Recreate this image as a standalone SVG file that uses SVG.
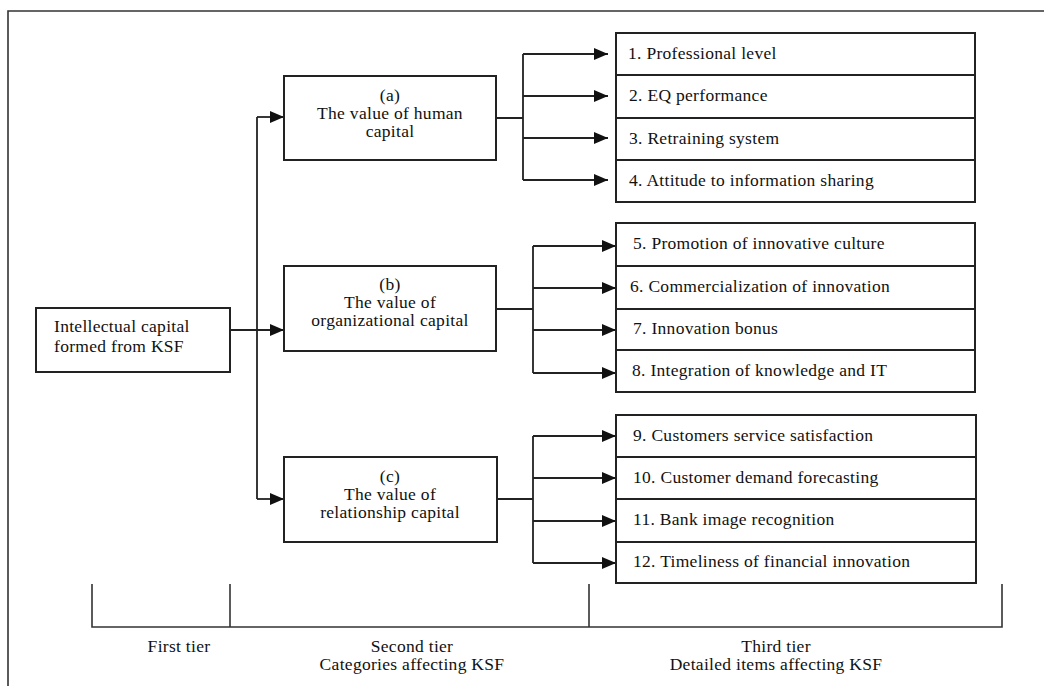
<svg xmlns="http://www.w3.org/2000/svg" width="1044" height="686" viewBox="0 0 1044 686">
<defs>
<marker id="ah" markerWidth="14" markerHeight="12" refX="14" refY="6" orient="auto" markerUnits="userSpaceOnUse">
<path d="M0,0 L14,6 L0,12 Z" fill="#111"/>
</marker>
<style>
.t{font-family:'Liberation Serif','DejaVu Serif',serif;font-size:17.5px;letter-spacing:0.3px;fill:#111}
.c{text-anchor:middle}
.box{fill:#fff;stroke:#222;stroke-width:2}
.ln{fill:none;stroke:#222;stroke-width:1.8}
.ar{fill:none;stroke:#222;stroke-width:1.8;marker-end:url(#ah)}
.fr{fill:none;stroke:#333;stroke-width:1.6}
</style>
</defs>
<rect width="1044" height="686" fill="#fff"/>
<g id="frame">
<path class="fr" d="M8,686 V11 H1044"/>
</g>
<g id="connectors">
<line class="ar" x1="230" y1="330" x2="284" y2="330"/>
<path class="ln" d="M257,117 V499"/>
<line class="ar" x1="257" y1="117" x2="284" y2="117"/>
<line class="ar" x1="257" y1="499" x2="284" y2="499"/>
<path class="ln" d="M496,118 H523 M523,54 V180"/>
<line class="ar" x1="523" y1="54" x2="608" y2="54"/>
<line class="ar" x1="523" y1="96" x2="608" y2="96"/>
<line class="ar" x1="523" y1="138" x2="608" y2="138"/>
<line class="ar" x1="523" y1="180" x2="608" y2="180"/>
<path class="ln" d="M496,309 H533 M533,246 V373"/>
<line class="ar" x1="533" y1="246" x2="616" y2="246"/>
<line class="ar" x1="533" y1="288" x2="616" y2="288"/>
<line class="ar" x1="533" y1="330" x2="616" y2="330"/>
<line class="ar" x1="533" y1="373" x2="616" y2="373"/>
<path class="ln" d="M497,499 H533 M533,436 V563"/>
<line class="ar" x1="533" y1="436" x2="616" y2="436"/>
<line class="ar" x1="533" y1="478" x2="616" y2="478"/>
<line class="ar" x1="533" y1="521" x2="616" y2="521"/>
<line class="ar" x1="533" y1="563" x2="616" y2="563"/>
</g>
<g id="ksf">
<rect class="box" x="36" y="308" width="194" height="64"/>
<text class="t" font-family="Liberation Serif, serif" x="54" y="332">Intellectual capital</text>
<text class="t" font-family="Liberation Serif, serif" x="54" y="352">formed from KSF</text>
</g>
<g id="cat-a">
<rect class="box" x="284" y="76" width="212" height="84"/>
<text class="t c" x="390" y="101">(a)</text>
<text class="t c" x="390" y="119">The value of human</text>
<text class="t c" x="390" y="137">capital</text>
</g>
<g id="cat-b">
<rect class="box" x="284" y="266" width="212" height="85"/>
<text class="t c" x="390" y="290">(b)</text>
<text class="t c" x="390" y="308">The value of</text>
<text class="t c" x="390" y="326">organizational capital</text>
</g>
<g id="cat-c">
<rect class="box" x="284" y="457" width="213" height="85"/>
<text class="t c" x="390" y="482">(c)</text>
<text class="t c" x="390" y="500">The value of</text>
<text class="t c" x="390" y="518">relationship capital</text>
</g>
<g id="item-1"><rect class="box" x="616" y="33" width="359" height="42"/><text class="t" x="628" y="58.5">1. Professional level</text></g>
<g id="item-2"><rect class="box" x="616" y="75" width="359" height="43"/><text class="t" x="629" y="101">2. EQ performance</text></g>
<g id="item-3"><rect class="box" x="616" y="118" width="359" height="42"/><text class="t" x="629" y="143.5">3. Retraining system</text></g>
<g id="item-4"><rect class="box" x="616" y="160" width="359" height="42"/><text class="t" x="629" y="185.5">4. Attitude to information sharing</text></g>
<g id="item-5"><rect class="box" x="616" y="223" width="359" height="43"/><text class="t" x="633" y="249">5. Promotion of innovative culture</text></g>
<g id="item-6"><rect class="box" x="616" y="266" width="359" height="43"/><text class="t" x="630" y="292">6.  Commercialization of innovation</text></g>
<g id="item-7"><rect class="box" x="616" y="309" width="359" height="41"/><text class="t" x="633" y="334">7. Innovation bonus</text></g>
<g id="item-8"><rect class="box" x="616" y="350" width="359" height="42"/><text class="t" x="632" y="376">8. Integration of knowledge and IT</text></g>
<g id="item-9"><rect class="box" x="616" y="415" width="360" height="42"/><text class="t" x="633" y="440.5">9. Customers service satisfaction</text></g>
<g id="item-10"><rect class="box" x="616" y="457" width="360" height="42"/><text class="t" x="633" y="482.5">10. Customer demand forecasting</text></g>
<g id="item-11"><rect class="box" x="616" y="499" width="360" height="43"/><text class="t" x="633" y="525">11. Bank image recognition</text></g>
<g id="item-12"><rect class="box" x="616" y="542" width="360" height="41"/><text class="t" x="633" y="567">12. Timeliness of financial innovation</text></g>
<g id="tiers">
<path class="fr" d="M92,584 V627 H1002 V584 M230,584 V627 M589,584 V627"/>
<text class="t c" x="179" y="652">First tier</text>
<text class="t c" x="412" y="652">Second tier</text>
<text class="t c" x="412" y="670">Categories affecting KSF</text>
<text class="t c" x="776" y="652">Third tier</text>
<text class="t c" x="776" y="670">Detailed items affecting KSF</text>
</g>
</svg>
